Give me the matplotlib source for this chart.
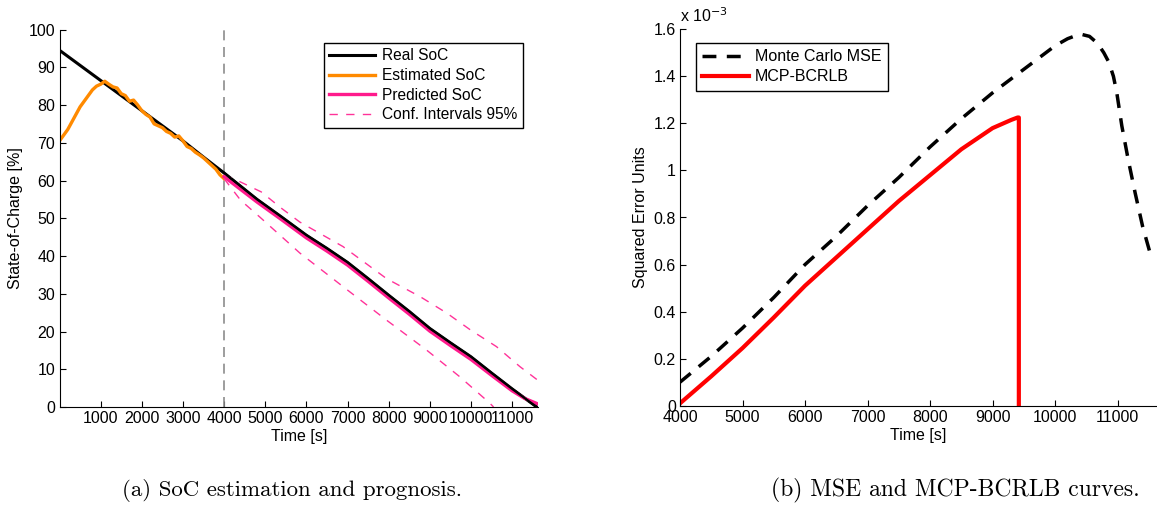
import matplotlib
matplotlib.use("Agg")
import matplotlib.pyplot as plt

plt.rcParams['font.family'] = ['Liberation Sans', 'DejaVu Sans']
plt.rcParams['font.size'] = 11.5

# --- (a) SoC estimation and prognosis ---
real_t = [0, 500, 1000, 1500, 2000, 2500, 3000, 3500, 4000, 4800, 5400, 6000, 6500,
          7000, 7500, 8000, 8500, 9000, 9500, 10000, 10500, 11000, 11300, 11600]
real_soc = [94.5, 90.5, 86.5, 82.5, 78.5, 74.5, 70.5, 66.2, 62.0, 55.0, 50.3, 45.5, 42.0,
            38.3, 34.0, 29.6, 25.3, 20.8, 17.0, 13.3, 9.0, 4.8, 2.4, 0.0]

est_t = [0, 100, 200, 300, 400, 500, 600, 700, 800, 900, 1000, 1100, 1200, 1300,
         1400, 1500, 1600, 1700, 1800, 1900, 2000, 2100, 2200, 2300, 2400, 2500,
         2600, 2700, 2800, 2900, 3000, 3100, 3200, 3300, 3400, 3500, 3600, 3700,
         3800, 3900, 4000]
est_soc = [70.5, 72.0, 73.5, 75.5, 77.5, 79.5, 81.0, 82.5, 84.0, 85.0, 85.5, 86.3, 85.5,
           84.8, 84.5, 83.0, 82.5, 81.0, 81.3, 80.0, 78.5, 77.5, 76.8, 75.0, 74.5,
           74.0, 73.0, 72.5, 71.5, 71.8, 70.5, 69.0, 68.5, 67.5, 66.8, 66.0, 65.0,
           64.0, 63.0, 61.5, 60.5]

pred_t = [4000, 4800, 5400, 6000, 6500, 7000, 7500, 8000, 8500, 9000, 9500, 10000,
          10500, 11000, 11300, 11630]
pred_soc = [61.0, 54.3, 49.6, 44.8, 41.3, 37.6, 33.3, 28.9, 24.6, 20.1, 16.3, 12.6,
            8.4, 4.3, 2.3, 0.8]

upper_t = [4000, 4400, 4900, 5400, 5840, 6890, 7950, 8770, 9410, 9990, 10620, 11190, 11600]
upper_ci = [61.5, 59.6, 57.0, 52.6, 49.0, 42.5, 34.0, 29.2, 24.9, 20.4, 16.0, 10.7, 7.3]
lower_t = [4000, 4400, 4860, 5840, 6890, 7950, 8920, 9730, 10460, 10550]
lower_ci = [60.5, 54.8, 50.4, 40.8, 31.9, 23.0, 15.1, 8.0, 1.0, 0.0]

# --- (b) MSE and MCP-BCRLB curves (values in units of 1e-3) ---
mse_t = [4000, 4500, 5000, 5500, 6000, 6500, 7000, 7500, 8000, 8500, 9000, 9500, 10000,
         10200, 10400, 10550, 10680, 10780, 10860, 10933, 10987, 11067, 11170, 11280,
         11400, 11550]
mse = [0.10, 0.21, 0.33, 0.46, 0.60, 0.72, 0.85, 0.97, 1.10, 1.22, 1.33, 1.43, 1.53,
       1.56, 1.58, 1.57, 1.54, 1.50, 1.46, 1.40, 1.33, 1.19, 1.045, 0.905, 0.762, 0.62]
bcrlb_t = [4000, 4500, 5000, 5500, 6000, 6500, 7000, 7500, 8000, 8500, 9000, 9300, 9400, 9420, 9420]
bcrlb = [0.01, 0.125, 0.245, 0.375, 0.51, 0.63, 0.75, 0.87, 0.98, 1.09, 1.18, 1.215, 1.225, 1.225, 0.0]

W, H = 1157, 519
fig = plt.figure(figsize=(W / 100, H / 100), dpi=100)

ax1 = fig.add_axes([59.5 / W, 1 - 407 / H, (538 - 59.5) / W, (407 - 29.5) / H])
ax2 = fig.add_axes([680 / W, 1 - 405.7 / H, (1157 - 680) / W, (405.7 - 29.3) / H])

ax1.axvline(4000, color='#8c8c8c', lw=1.2, ls=(0, (6, 4)))
ax1.plot(real_t, real_soc, color='black', lw=2.2, label='Real SoC')
ax1.plot(est_t, est_soc, color='#ff8a00', lw=2.4, label='Estimated SoC')
ax1.plot(pred_t, pred_soc, color='#ff1a8c', lw=2.4, label='Predicted SoC', zorder=2)
ax1.plot(real_t[8:], real_soc[8:], color='black', lw=1.6, zorder=3)
ax1.plot(upper_t, upper_ci, color='#ff3399', lw=1.0, ls=(0, (6, 6)),
         label='Conf. Intervals 95%')
ax1.plot(lower_t, lower_ci, color='#ff3399', lw=1.0, ls=(0, (6, 6)))

ax1.set_xlim(0, 11630)
ax1.set_ylim(0, 100)
ax1.set_xticks(range(1000, 12000, 1000))
ax1.set_yticks(range(0, 101, 10))
ax1.set_xlabel('Time [s]', labelpad=2)
ax1.set_ylabel('State-of-Charge [%]')
leg1 = ax1.legend(loc='upper right', bbox_to_anchor=(0.985, 0.985), fancybox=False,
                  framealpha=1, edgecolor='black', handlelength=2.9, handletextpad=0.5,
                  borderpad=0.35, labelspacing=0.3, fontsize=11.2)
leg1.get_frame().set_linewidth(1.0)

ax2.plot(mse_t, mse, color='black', lw=2.5, ls=(0, (4, 3)), label='Monte Carlo MSE')
ax2.plot(bcrlb_t, bcrlb, color='#ff0000', lw=3, label='MCP-BCRLB')
ax2.set_xlim(4000, 11630)
ax2.set_ylim(0, 1.6)
ax2.set_xticks(range(4000, 12000, 1000))
ax2.set_yticks([0, 0.2, 0.4, 0.6, 0.8, 1.0, 1.2, 1.4, 1.6])
ax2.set_yticklabels(['0', '0.2', '0.4', '0.6', '0.8', '1', '1.2', '1.4', '1.6'])
ax2.set_xlabel('Time [s]', labelpad=2)
ax2.set_ylabel('Squared Error Units')
ax2.text(0.0, 1.012, r'x 10$^{-3}$', transform=ax2.transAxes, ha='left', va='bottom',
         fontsize=11.5)
leg2 = ax2.legend(loc='upper left', bbox_to_anchor=(0.017, 0.985), fancybox=False,
                  framealpha=1, edgecolor='black', handlelength=2.9, handletextpad=0.4,
                  borderpad=0.4, labelspacing=0.3, fontsize=11.5)
leg2.get_frame().set_linewidth(1.0)

for ax in (ax1, ax2):
    ax.spines['top'].set_visible(False)
    ax.spines['right'].set_visible(False)
    ax.spines['left'].set_linewidth(0.8)
    ax.spines['bottom'].set_linewidth(0.8)
    ax.tick_params(direction='in', length=4, width=0.8, top=False, right=False,
                   labelsize=11.5, pad=3)

fig.text(292 / W, 1 - 490 / H, '(a) SoC estimation and prognosis.', ha='center',
         va='center', fontsize=16.5, family='cmr10')
fig.text(955 / W, 1 - 490 / H, '(b) MSE and MCP-BCRLB curves.', ha='center',
         va='center', fontsize=17, family='cmr10')

fig.savefig('out.png', dpi=100)
